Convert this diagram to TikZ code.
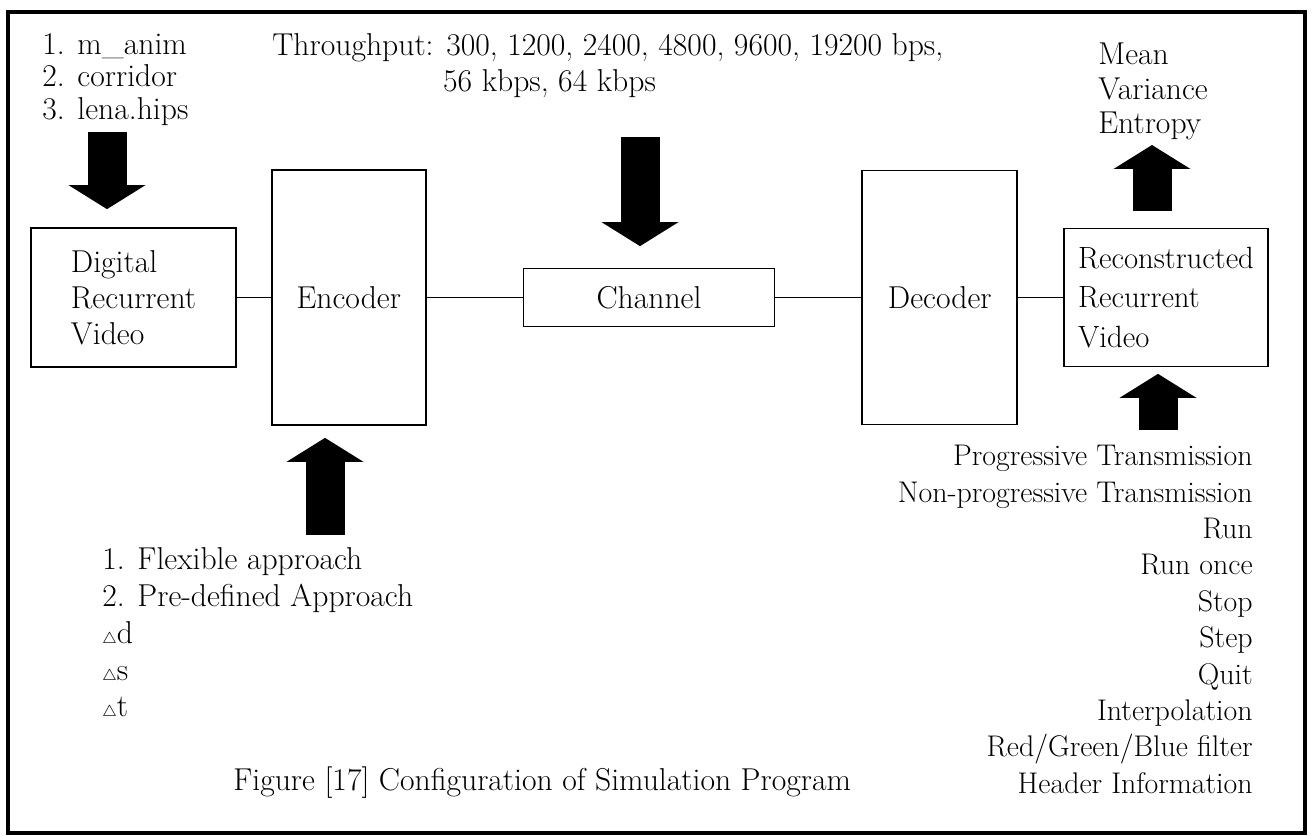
\RequirePackage{fix-cm}
\documentclass[tikz,border=0pt]{standalone}
\usepackage{fontspec}
\usepackage{tikz}
\usetikzlibrary{positioning,arrows.meta}

\begin{document}
\fontsize{18}{20.5}\selectfont
\begin{tikzpicture}[block/.style={draw,line width=1pt,inner sep=1pt},
  fatarrow/.style={line width=0.78cm,-{Triangle[length=0.48cm,width=1.54cm,line width=0pt]}},
  link/.style={line width=1pt}]

\useasboundingbox (0,0) rectangle (26.24,-16.72);
\draw[line width=2pt] (0.16,-0.24) rectangle (26.1,-16.66);


\node[block,minimum width=4.1cm,minimum height=2.78cm,align=left] (dig) at (2.67,-5.95) {Digital\\Recurrent\\Video};
\node[block,minimum width=3.08cm,minimum height=5.1cm,right = 0.68cm of dig] (enc) {Encoder};
\node[block,minimum width=5.02cm,minimum height=1.16cm,right = 1.92cm of enc] (chan) {Channel};
\node[block,minimum width=3.1cm,minimum height=5.08cm,right = 1.72cm of chan] (dec) {Decoder};
\node[block,minimum width=4.08cm,minimum height=2.76cm,right = 0.9cm of dec,align=left,font=\fontsize{17.5}{22.5}\selectfont] (rec) {Reconstructed\\Recurrent\\Video};
\path[link] (dig) edge (enc) (enc) edge (chan) (chan) edge (dec) (dec) edge (rec);


\node[anchor=north west,inner sep=0,align=left,font=\fontsize{18}{18.5}\selectfont] (files) at (0.84,-0.66) {1. m\_anim\\2. corridor\\3. lena.hips};
\node[anchor=north west,inner sep=0,align=left] (thr) at (5.44,-0.66) {Throughput: 300, 1200, 2400, 4800, 9600, 19200 bps,\\\hphantom{Throughput:\ }56 kbps, 64 kbps};
\node[anchor=north west,inner sep=0,align=left,font=\fontsize{18}{19.5}\selectfont] (stats) at (21.96,-0.86) {Mean\\Variance\\Entropy};
\node[anchor=north west,inner sep=0,align=left,font=\fontsize{18}{21}\selectfont] (modes) at (2.04,-10.94) {1. Flexible approach\\2. Pre-defined Approach\\$\scriptscriptstyle\triangle$d\\$\scriptscriptstyle\triangle$s\\$\scriptscriptstyle\triangle$t};
\node[anchor=north east,inner sep=0,align=right,font=\fontsize{17}{20.7}\selectfont] (opts) at (25.06,-8.9) {Progressive Transmission\\Non-progressive Transmission\\Run\\Run once\\Stop\\Step\\Quit\\Interpolation\\Red/Green/Blue filter\\Header Information};
\node[anchor=west,inner sep=0] (cap) at (4.66,-15.66) {Figure [17] Configuration of Simulation Program};


\coordinate (in1) at (2.14,-2.64);
\coordinate (in2) at (12.8,-2.74);
\coordinate (in3) at (6.5,-10.7);
\coordinate (out1) at (23.04,-2.9);
\coordinate (in5) at (23.16,-8.6);
\draw[fatarrow,shorten >=0.36cm] (in1) -- (in1 |- dig.north);
\draw[fatarrow,shorten >=0.43cm] (in2) -- (in2 |- chan.north);
\draw[fatarrow,shorten >=0.24cm] (in3) -- (in3 |- enc.south);
\draw[fatarrow,shorten <=0.33cm] (out1 |- rec.north) -- (out1);
\draw[fatarrow,shorten >=0.13cm] (in5) -- (in5 |- rec.south);

\end{tikzpicture}
\end{document}
